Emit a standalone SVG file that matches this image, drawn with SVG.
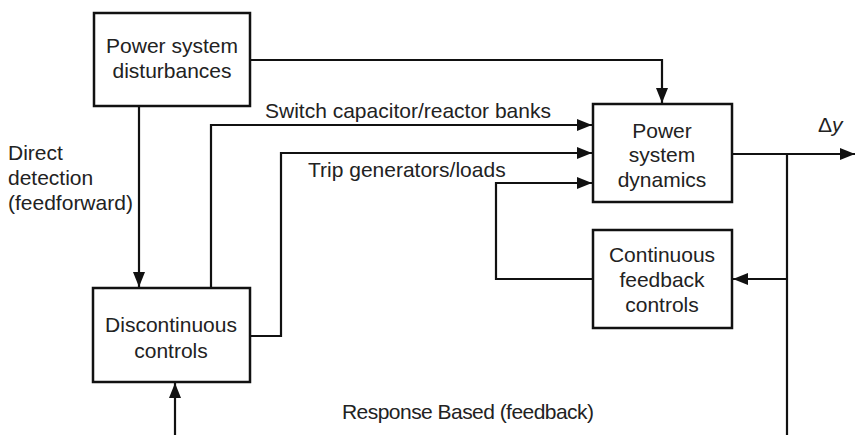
<svg xmlns="http://www.w3.org/2000/svg" width="855" height="435" viewBox="0 0 855 435">
  <style>
    .box { fill: #fff; stroke: #111; stroke-width: 2.5; }
    .wire { fill: none; stroke: #111; stroke-width: 2.2; }
    text { font-family: "Liberation Sans", Arial, sans-serif; font-size: 21px; fill: #222; }
    .c { text-anchor: middle; }
  </style>
  <defs>
    <marker id="arrow" markerUnits="userSpaceOnUse" markerWidth="16" markerHeight="12" refX="15" refY="6" orient="auto">
      <path d="M0,0 L15,6 L0,12 Z" fill="#111"/>
    </marker>
  </defs>

  <rect width="855" height="435" fill="#fff"/>

  <!-- connectors -->
  <g id="connectors">
    <!-- disturbances to dynamics -->
    <path class="wire" d="M250,60 H662 V103" marker-end="url(#arrow)"/>
    <!-- direct detection (feedforward) -->
    <path class="wire" d="M139,106 V287" marker-end="url(#arrow)"/>
    <!-- switch capacitor/reactor banks -->
    <path class="wire" d="M211,288 V125 H592" marker-end="url(#arrow)"/>
    <!-- trip generators/loads -->
    <path class="wire" d="M250,336 H281 V153 H592" marker-end="url(#arrow)"/>
    <!-- continuous feedback output -->
    <path class="wire" d="M593,279 H496 V183 H592" marker-end="url(#arrow)"/>
    <!-- system output -->
    <path class="wire" d="M732,154 H855" marker-end="url(#arrow)"/>
    <!-- measured response branch -->
    <path class="wire" d="M787,154 V435"/>
    <path class="wire" d="M787,279 H733" marker-end="url(#arrow)"/>
    <!-- response based (feedback) -->
    <path class="wire" d="M175,435 V383" marker-end="url(#arrow)"/>
  </g>

  <g id="disturbances">
    <rect class="box" x="94" y="13" width="156" height="93"/>
    <text class="c" x="172" y="53">Power system</text>
    <text class="c" x="172" y="78">disturbances</text>
  </g>

  <g id="dynamics">
    <rect class="box" x="593" y="104" width="139" height="98"/>
    <text class="c" x="662" y="138">Power</text>
    <text class="c" x="662" y="162">system</text>
    <text class="c" x="662" y="187">dynamics</text>
  </g>

  <g id="continuous">
    <rect class="box" x="593" y="230" width="139" height="98"/>
    <text class="c" x="662" y="262">Continuous</text>
    <text class="c" x="662" y="287">feedback</text>
    <text class="c" x="662" y="312">controls</text>
  </g>

  <g id="discontinuous">
    <rect class="box" x="93" y="288" width="157" height="94"/>
    <text class="c" x="171" y="332">Discontinuous</text>
    <text class="c" x="171" y="358">controls</text>
  </g>

  <g id="labels">
    <text x="265" y="118">Switch capacitor/reactor banks</text>
    <text x="308" y="177">Trip generators/loads</text>
    <text x="8" y="160">Direct</text>
    <text x="8" y="185">detection</text>
    <text x="8" y="210">(feedforward)</text>
    <text x="342" y="419" textLength="252">Response Based (feedback)</text>
    <text x="818" y="132">Δ<tspan font-style="italic">y</tspan></text>
  </g>
</svg>
